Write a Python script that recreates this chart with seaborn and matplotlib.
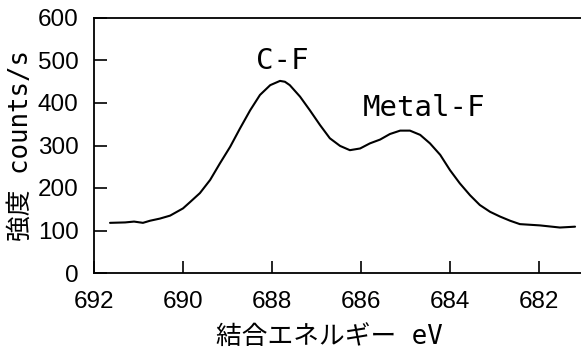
import matplotlib
matplotlib.use('Agg')
import seaborn as sns
import pandas as pd
import matplotlib.pyplot as plt

# binding energy (eV) and intensity (counts/s)
BINDING_EV = [691.64, 691.3, 691.1, 690.9, 690.74, 690.52, 690.29, 690.0,
              689.84, 689.62, 689.39, 689.17, 688.94, 688.72, 688.49, 688.27, 688.04,
              687.82, 687.71,
              687.60, 687.37, 687.15, 686.92, 686.70, 686.47, 686.25,
              686.02, 685.80, 685.57, 685.35, 685.12, 684.90, 684.67, 684.45, 684.22,
              684.00, 683.78, 683.55, 683.33, 683.10, 682.88, 682.65, 682.43,
              681.98, 681.53, 681.19]
INTENSITY = [118, 119, 121, 118, 123, 128, 135, 152,
             167, 188, 219, 258, 297, 340, 383, 419, 442,
             452, 450,
             442, 415, 383, 348, 317, 299, 289,
             293, 305, 314, 327, 335, 335, 325, 305, 278,
             242, 211, 183, 160, 144, 133, 123, 115,
             112, 107, 109]

X_TICKS = [692, 690, 688, 686, 684, 682]
Y_TICKS = [0, 100, 200, 300, 400, 500, 600]

PEAK_LABELS = ['C-F', 'Metal-F']
PEAK_X = [687.78, 684.58]
PEAK_Y = [499, 389]

if __name__ == '__main__':
    sns.set_style('ticks')
    plt.rcParams['font.family'] = ['DejaVu Sans Mono', 'Noto Sans CJK JP']
    plt.rcParams.update({
        'text.color': 'black',
        'axes.labelcolor': 'black',
        'xtick.color': 'black',
        'ytick.color': 'black',
    })
    plt.rc('axes', labelsize=18.5)

    df = pd.DataFrame({'eV': BINDING_EV, 'counts': INTENSITY})

    fig = plt.figure(figsize=(5.81, 3.51), dpi=100)
    ax = fig.add_axes([94 / 581, 78 / 351, 489.5 / 581, 255 / 351])

    sns.lineplot(data=df, x='eV', y='counts', color='black', linewidth=1.5, ax=ax)

    ax.set_xlim(692, 681)
    ax.set_ylim(0, 600)
    ax.set_xticks(X_TICKS)
    ax.set_yticks(Y_TICKS)
    ax.tick_params(axis='both', direction='in', length=9, width=1.2, color='black')
    ax.tick_params(axis='y', pad=11)
    ax.tick_params(axis='x', pad=13)
    for lbl in ax.get_xticklabels() + ax.get_yticklabels():
        lbl.set_family(['Liberation Sans', 'DejaVu Sans'])
        lbl.set_fontsize(17.5)
    for side in ['left', 'bottom', 'top']:
        ax.spines[side].set_linewidth(1.3)
        ax.spines[side].set_color('black')
    ax.spines['right'].set_visible(False)

    ax.set_xlabel('結合エネルギー eV')
    ax.xaxis.set_label_coords(0.48, -0.25, transform=ax.transAxes)
    ax.xaxis.label.set_va('center')
    ax.set_ylabel('強度 counts/s', labelpad=3)

    for label, x, y in zip(PEAK_LABELS, PEAK_X, PEAK_Y):
        ax.text(x, y, label, fontsize=21, ha='center', va='center')

    plt.savefig('out.png', dpi=100)
